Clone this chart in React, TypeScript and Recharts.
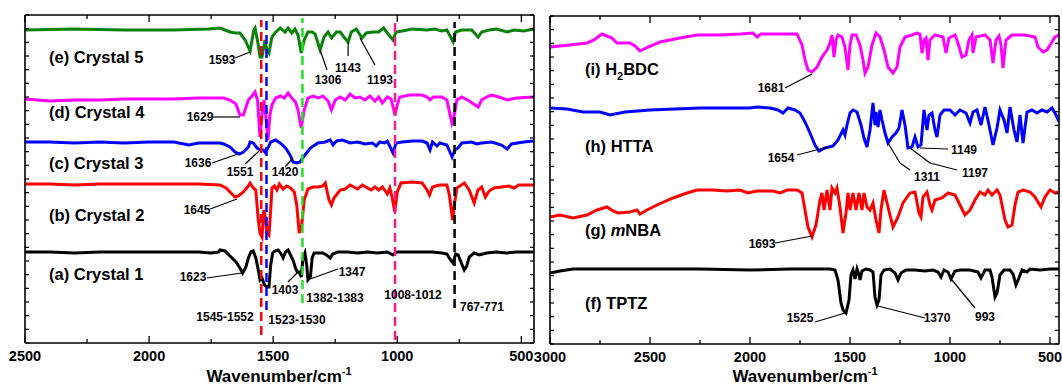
import React from 'react';
import { LineChart, Line, XAxis, YAxis, ReferenceLine } from 'recharts';

type Pt = [number, number];

// ---------- Left panel: complexes (wavenumber cm-1, transmittance a.u. with offsets) ----------
const crystal5: Pt[] = [[2500,313],[2300,314],[2100,313],[1900,313],[1760,314],[1714,315],[1674,311],[1654,310],[1634,310],[1613,303],[1593,292],[1578,313],[1573,315],[1560,298],[1553,286],[1545,286],[1533,303],[1525,293],[1517,290],[1505,306],[1493,310],[1472,315],[1452,311],[1440,315],[1425,310],[1412,314],[1400,308],[1387,290],[1375,303],[1360,311],[1343,311],[1331,309],[1311,293],[1295,306],[1279,311],[1265,305],[1245,311],[1230,311],[1215,306],[1198,301],[1185,311],[1165,314],[1142,305],[1125,310],[1100,311],[1075,311],[1055,315],[1040,310],[1017,303],[1005,311],[980,312],[940,314],[880,313],[850,314],[820,312],[800,313],[785,306],[775,301],[765,311],[740,313],[700,313],[674,306],[660,311],[630,313],[600,314],[557,311],[530,313],[490,312],[449,314]];
const crystal4: Pt[] = [[2500,244],[2450,243],[2400,242],[2300,243],[2200,243],[2100,244],[2000,244],[1900,244],[1800,245],[1700,245],[1674,243],[1650,239],[1634,228],[1620,228],[1600,243],[1585,247],[1573,251],[1563,243],[1553,206],[1545,228],[1537,243],[1530,228],[1521,203],[1513,228],[1505,238],[1490,245],[1470,247],[1455,245],[1440,250],[1425,245],[1410,241],[1400,233],[1387,215],[1375,233],[1360,245],[1340,247],[1318,245],[1300,247],[1279,242],[1265,233],[1250,243],[1230,246],[1210,243],[1190,249],[1170,245],[1150,246],[1130,243],[1110,247],[1090,242],[1075,246],[1060,240],[1040,246],[1025,244],[1009,228],[1000,238],[990,246],[950,248],[900,248],[880,246],[868,243],[855,246],[820,246],[800,243],[780,220],[770,228],[760,243],[740,246],[710,242],[674,236],[660,243],[640,246],[620,248],[590,246],[557,243],[520,245],[449,246]];
const crystal3: Pt[] = [[2500,201],[2400,201],[2300,200],[2200,201],[2100,200],[2000,201],[1900,201],[1840,198],[1800,200],[1714,200],[1700,199],[1674,196],[1654,191],[1636,189],[1620,191],[1600,196],[1593,201],[1580,200],[1565,195],[1551,193],[1540,193],[1533,191],[1521,195],[1510,201],[1490,203],[1472,200],[1450,195],[1432,188],[1420,181],[1405,180],[1392,181],[1375,187],[1350,195],[1320,200],[1290,201],[1271,203],[1259,198],[1245,202],[1220,203],[1190,200],[1160,201],[1130,199],[1100,200],[1085,197],[1070,201],[1050,200],[1040,202],[1017,190],[1005,200],[980,201],[940,202],[900,202],[880,200],[868,193],[858,201],[840,197],[828,200],[800,198],[779,186],[768,193],[755,195],[740,200],[700,201],[680,199],[660,200],[620,201],[580,198],[557,194],[540,199],[490,201],[449,202]];
const crystal2: Pt[] = [[2500,159],[2400,159],[2300,158],[2200,159],[2100,159],[2000,159],[1900,159],[1800,159],[1714,158],[1690,155],[1674,151],[1654,146],[1640,147],[1620,151],[1600,157],[1593,160],[1580,155],[1570,153],[1560,123],[1553,110],[1545,106],[1538,133],[1533,128],[1525,110],[1517,108],[1510,133],[1505,155],[1495,157],[1485,153],[1475,159],[1460,154],[1445,157],[1430,155],[1415,151],[1405,138],[1395,110],[1385,118],[1375,143],[1360,154],[1340,156],[1320,156],[1300,157],[1290,160],[1275,143],[1265,138],[1255,145],[1230,153],[1210,154],[1190,158],[1175,156],[1160,154],[1140,158],[1120,155],[1105,153],[1090,156],[1075,153],[1060,156],[1040,149],[1030,155],[1020,145],[1010,131],[1000,151],[985,160],[940,161],[900,160],[880,153],[870,148],[858,156],[830,158],[800,158],[790,148],[777,123],[770,138],[760,155],[730,160],[710,153],[690,140],[675,153],[660,156],[645,146],[630,152],[610,155],[580,156],[550,157],[530,155],[510,158],[449,158]];
const crystal1: Pt[] = [[2500,91],[2400,91],[2300,90],[2200,91],[2100,91],[2000,91],[1900,91],[1800,91],[1750,90],[1720,91],[1714,93],[1694,92],[1674,87],[1650,81],[1634,75],[1623,70],[1610,76],[1600,85],[1590,91],[1580,92],[1570,85],[1560,73],[1553,63],[1545,65],[1535,58],[1525,56],[1517,56],[1510,78],[1502,90],[1493,92],[1480,93],[1470,90],[1460,85],[1450,91],[1440,93],[1430,88],[1420,83],[1410,75],[1403,71],[1395,71],[1387,66],[1380,85],[1372,90],[1365,78],[1360,63],[1350,66],[1343,85],[1335,90],[1315,90],[1300,90],[1285,88],[1270,85],[1260,89],[1240,91],[1200,91],[1160,90],[1120,91],[1080,90],[1040,91],[1017,88],[1005,91],[960,91],[900,91],[860,91],[820,90],[800,89],[785,83],[775,80],[765,89],[755,88],[740,79],[730,73],[720,77],[710,86],[690,90],[670,88],[640,90],[600,91],[560,90],[520,91],[449,91]];

// ---------- Right panel: ligands ----------
const h2bdc: Pt[] = [[3000,297],[2900,299],[2815,301],[2780,304],[2740,310],[2715,308],[2690,306],[2665,301],[2630,301],[2600,301],[2575,298],[2550,293],[2510,297],[2450,302],[2350,306],[2265,309],[2150,309],[2050,310],[1985,311],[1965,307],[1945,310],[1850,310],[1765,310],[1740,299],[1725,284],[1710,274],[1690,272],[1665,277],[1640,287],[1615,294],[1600,301],[1590,309],[1580,287],[1570,304],[1560,309],[1540,307],[1525,297],[1510,274],[1500,299],[1490,309],[1470,309],[1450,299],[1435,284],[1425,271],[1410,277],[1390,299],[1370,311],[1350,307],[1330,294],[1310,277],[1285,271],[1265,277],[1250,297],[1225,307],[1190,309],[1165,311],[1150,310],[1140,291],[1130,304],[1120,306],[1110,284],[1100,304],[1075,309],[1035,307],[1020,291],[1005,306],[975,309],[960,301],[940,287],[920,289],[905,304],[890,309],[885,291],[870,307],[825,309],[800,304],[785,281],[770,304],[755,308],[745,299],[735,276],[720,304],[690,309],[625,309],[575,307],[560,297],[535,292],[515,294],[490,302],[475,307],[455,309]];
const htta: Pt[] = [[3000,236],[2915,235],[2835,232],[2750,232],[2700,229],[2625,232],[2500,234],[2250,236],[2000,236],[1965,237],[1900,236],[1860,234],[1835,231],[1810,236],[1775,234],[1750,231],[1725,222],[1700,211],[1675,199],[1655,193],[1625,196],[1585,198],[1560,204],[1535,214],[1525,209],[1515,219],[1500,231],[1485,234],[1465,232],[1445,219],[1430,206],[1415,197],[1400,214],[1385,241],[1375,219],[1370,232],[1360,217],[1350,234],[1340,224],[1325,211],[1310,201],[1290,207],[1270,211],[1255,216],[1240,234],[1225,219],[1210,196],[1190,197],[1175,207],[1160,197],[1145,199],[1130,234],[1115,214],[1105,229],[1090,231],[1075,214],[1065,207],[1050,229],[1030,234],[1000,234],[975,229],[950,234],[920,231],[900,221],[885,232],[865,234],[845,219],[825,237],[805,219],[785,199],[765,216],[750,234],[730,224],[715,211],[700,237],[680,214],[665,202],[650,229],[635,201],[615,232],[590,234],[565,231],[540,234],[515,232],[490,236],[470,229],[455,222]];
const mnba: Pt[] = [[3000,127],[2950,129],[2885,126],[2815,129],[2765,134],[2715,137],[2685,133],[2660,131],[2600,132],[2565,134],[2550,130],[2515,134],[2465,139],[2385,146],[2315,151],[2265,154],[2185,154],[2115,153],[2050,154],[2010,151],[1965,153],[1885,153],[1850,151],[1815,154],[1765,154],[1740,151],[1725,134],[1710,117],[1690,107],[1670,119],[1650,144],[1640,151],[1630,134],[1615,154],[1600,134],[1590,156],[1575,151],[1565,156],[1550,137],[1535,111],[1520,131],[1510,151],[1500,134],[1485,151],[1470,134],[1455,151],[1440,134],[1430,151],[1415,137],[1400,134],[1385,141],[1370,124],[1355,111],[1345,134],[1330,154],[1310,137],[1285,117],[1260,127],[1235,141],[1200,151],[1175,152],[1155,131],[1145,127],[1135,147],[1115,152],[1100,139],[1090,134],[1075,144],[1040,146],[1010,151],[975,149],[950,139],[925,129],[900,134],[875,144],[850,152],[825,149],[810,154],[790,149],[765,154],[750,149],[725,124],[710,117],[690,119],[675,139],[660,152],[635,154],[600,152],[575,147],[545,137],[525,147],[500,154],[475,151],[455,152]];
const tptz: Pt[] = [[3000,71],[2950,73],[2885,75],[2750,75],[2500,75],[2250,75],[2000,74],[1800,75],[1650,75],[1600,75],[1575,74],[1560,64],[1545,41],[1535,34],[1520,31],[1505,44],[1495,69],[1485,74],[1475,65],[1465,75],[1455,69],[1450,64],[1440,73],[1420,75],[1400,74],[1385,72],[1375,47],[1365,39],[1355,44],[1345,69],[1330,74],[1300,75],[1275,71],[1260,64],[1245,71],[1220,74],[1175,74],[1125,73],[1085,74],[1060,72],[1045,67],[1030,74],[1010,72],[995,65],[975,73],[950,74],[900,74],[860,72],[845,66],[825,74],[800,74],[790,67],[775,47],[765,51],[750,69],[730,74],[700,74],[685,70],[670,59],[655,66],[640,74],[615,72],[600,75],[550,74],[500,75],[455,75]];

// ---------- Axes ----------
const leftTicks = [2500, 2250, 2000, 1750, 1500, 1250, 1000, 750, 500];
const leftTickLabels = [2500, 2000, 1500, 1000, 500];
const rightTicks = [3000, 2750, 2500, 2250, 2000, 1750, 1500, 1250, 1000, 750, 500];
const rightTickLabels = [3000, 2500, 2000, 1500, 1000, 500];
const leftDomain: [number, number] = [449, 2500];
const rightDomain: [number, number] = [455, 3000];
const yMax = 328;
const yTicks = Array.from({ length: 25 }, (_, i) => (i * yMax) / 24);

const FONT = '"Liberation Sans", Arial, Helvetica, sans-serif';

const toData = (arr: Pt[]) => arr.map(([wn, v]) => ({ wn, v }));

const leftSeries = [
  { key: 'c5', data: crystal5, color: '#0a820a' },
  { key: 'c4', data: crystal4, color: '#ff00ff' },
  { key: 'c3', data: crystal3, color: '#0000ff' },
  { key: 'c2', data: crystal2, color: '#ff0000' },
  { key: 'c1', data: crystal1, color: '#000000' },
];
const rightSeries = [
  { key: 'i', data: h2bdc, color: '#ff00ff' },
  { key: 'h', data: htta, color: '#0000ff' },
  { key: 'g', data: mnba, color: '#ff0000' },
  { key: 'f', data: tptz, color: '#000000' },
];

// dashed marker lines (wavenumber, extent in a.u.)
const markers = [
  { wn: 1548, from: 8, to: 323, color: '#ff0000' },
  { wn: 1527, from: 33, to: 323, color: '#0000ff' },
  { wn: 1382, from: 40, to: 325, color: '#22e022' },
  { wn: 1009, from: 3, to: 321, color: '#ff1a8c' },
  { wn: 769, from: 35, to: 321, color: '#000000' },
];

// leader lines (data coordinates)
const leftLeaders: Pt[][] = [
  [[1654, 285], [1593, 291]],
  [[1742, 226], [1634, 226]],
  [[1746, 180], [1642, 189]],
  [[1613, 179], [1557, 192]],
  [[1452, 176], [1420, 185]],
  [[1754, 134], [1646, 144]],
  [[1767, 65], [1626, 70]],
  [[1440, 61], [1400, 71]],
  [[1351, 64], [1239, 74]],
  [[1311, 293], [1283, 273]],
  [[1198, 301], [1198, 287]],
  [[1150, 305], [1090, 278]],
];
const rightLeaders: Pt[][] = [
  [[1825, 256], [1690, 270]],
  [[1765, 189], [1610, 197]],
  [[1310, 201], [1250, 181], [1200, 174]],
  [[1200, 196], [1100, 181], [965, 174]],
  [[1150, 196], [1010, 195]],
  [[1875, 101], [1690, 108]],
  [[1675, 22], [1525, 31]],
  [[1360, 38], [1125, 26]],
  [[990, 64], [875, 36]],
];

// annotation text (page pixels)
const peakLabels = [
  { t: '1593', x: 222, y: 60 }, { t: '1629', x: 200, y: 117 }, { t: '1636', x: 198, y: 163 },
  { t: '1551', x: 240, y: 172 }, { t: '1420', x: 285, y: 172 }, { t: '1645', x: 197, y: 210 },
  { t: '1623', x: 193, y: 277 }, { t: '1403', x: 285, y: 290 }, { t: '1347', x: 352, y: 272 },
  { t: '1306', x: 328, y: 80 }, { t: '1143', x: 348, y: 68 }, { t: '1193', x: 380, y: 80 },
  { t: '1545-1552', x: 225, y: 317 }, { t: '1523-1530', x: 297, y: 320 },
  { t: '1382-1383', x: 335, y: 298 }, { t: '1008-1012', x: 413, y: 295 }, { t: '767-771', x: 482, y: 307 },
  { t: '1681', x: 771, y: 88 }, { t: '1654', x: 781, y: 158 }, { t: '1311', x: 927, y: 177 },
  { t: '1197', x: 975, y: 173 }, { t: '1149', x: 964, y: 150 }, { t: '1693', x: 762, y: 244 },
  { t: '1525', x: 800, y: 318 }, { t: '1370', x: 937, y: 318 }, { t: '993', x: 985, y: 317 },
];
const leftNames = [
  { t: '(e) Crystal 5', y: 58 }, { t: '(d) Crystal 4', y: 113 }, { t: '(c) Crystal 3', y: 164 },
  { t: '(b) Crystal 2', y: 216 }, { t: '(a) Crystal 1', y: 275 },
];

const makeBottomTick = (labels: number[]) => (props: any) => {
  const { x, y, payload } = props;
  const major = labels.includes(payload.value);
  return (
    <g>
      <line x1={x} y1={y} x2={x} y2={y - (major ? 7 : 4)} stroke="#000" strokeWidth={1.3} />
      {major && (
        <text x={x} y={y + 18} textAnchor="middle" fontFamily={FONT} fontWeight="bold" fontSize={14.5} fill="#000">
          {payload.value}
        </text>
      )}
    </g>
  );
};
const makeTopTick = (labels: number[]) => (props: any) => {
  const { x, y, payload } = props;
  const major = labels.includes(payload.value);
  return <line x1={x} y1={y} x2={x} y2={y + (major ? 7 : 4)} stroke="#000" strokeWidth={1.3} />;
};
const leftYTick = (props: any) => <line x1={props.x} y1={props.y} x2={props.x + 4} y2={props.y} stroke="#000" strokeWidth={1.2} />;
const rightYTick = (props: any) => <line x1={props.x} y1={props.y} x2={props.x - 4} y2={props.y} stroke="#000" strokeWidth={1.2} />;

const axisLine = { stroke: '#000', strokeWidth: 1.6 };

function panelAxes(domain: [number, number], ticks: number[], labels: number[]) {
  return [
    <XAxis key="xb" type="number" dataKey="wn" domain={domain} reversed allowDataOverflow ticks={ticks} interval={0}
      height={1} tickSize={0} tickMargin={0} tickLine={false} axisLine={axisLine} tick={makeBottomTick(labels)} />,
    <XAxis key="xt" xAxisId="top" orientation="top" type="number" dataKey="wn" domain={domain} reversed allowDataOverflow
      ticks={ticks} interval={0} height={1} tickSize={0} tickMargin={0} tickLine={false} axisLine={axisLine} tick={makeTopTick(labels)} />,
    <YAxis key="yl" type="number" domain={[0, yMax]} ticks={yTicks} interval={0} width={1} tickSize={0} tickMargin={0}
      tickLine={false} axisLine={axisLine} tick={leftYTick} allowDataOverflow />,
    <YAxis key="yr" yAxisId="r" orientation="right" type="number" domain={[0, yMax]} ticks={yTicks} interval={0} width={1}
      tickSize={0} tickMargin={0} tickLine={false} axisLine={axisLine} tick={rightYTick} allowDataOverflow />,
  ];
}

const leaderLines = (leaders: Pt[][], prefix: string) =>
  leaders.flatMap((pl, i) =>
    pl.slice(1).map((p, j) => (
      <ReferenceLine key={`${prefix}${i}-${j}`} segment={[{ x: pl[j][0], y: pl[j][1] }, { x: p[0], y: p[1] }]}
        stroke="#000" strokeWidth={1.2} ifOverflow="visible" />
    ))
  );

export default function App() {
  return (
    <div style={{ position: 'absolute', left: 0, top: 0, width: 1062, height: 385, background: '#fff', overflow: 'hidden' }}>
      <div style={{ position: 'absolute', left: 0, top: 0 }}>
        <LineChart width={540} height={385} margin={{ top: 14, right: 5, bottom: 41, left: 24 }}>
          {panelAxes(leftDomain, leftTicks, leftTickLabels)}
          {leftSeries.map((s) => (
            <Line key={s.key} data={toData(s.data)} dataKey="v" type="linear" stroke={s.color} strokeWidth={3}
              dot={false} activeDot={false} isAnimationActive={false} />
          ))}
          {markers.map((m) => (
            <ReferenceLine key={`m${m.wn}`} segment={[{ x: m.wn, y: m.from }, { x: m.wn, y: m.to }]}
              stroke={m.color} strokeWidth={2.5} strokeDasharray="9 5" ifOverflow="visible" zIndex={600} />
          ))}
          {leaderLines(leftLeaders, 'll')}
        </LineChart>
      </div>
      <div style={{ position: 'absolute', left: 520, top: 0 }}>
        <LineChart width={542} height={385} margin={{ top: 15, right: 2, bottom: 40, left: 29 }}>
          {panelAxes(rightDomain, rightTicks, rightTickLabels)}
          {rightSeries.map((s) => (
            <Line key={s.key} data={toData(s.data)} dataKey="v" type="linear" stroke={s.color} strokeWidth={3}
              dot={false} activeDot={false} isAnimationActive={false} />
          ))}
          {leaderLines(rightLeaders, 'rl')}
        </LineChart>
      </div>
      <svg width={1062} height={385} style={{ position: 'absolute', left: 0, top: 0, pointerEvents: 'none' }}
        fontFamily={FONT} fontWeight="bold" fill="#000">
        {leftNames.map((n) => (
          <text key={n.t} x={49} y={n.y + 4.5} fontSize={16.5}>{n.t}</text>
        ))}
        <text x={585} y={74.5} fontSize={16.5}>
          (i) H<tspan fontSize={11} dy={5}>2</tspan><tspan dy={-5}>BDC</tspan>
        </text>
        <text x={585} y={151.5} fontSize={16.5}>(h) HTTA</text>
        <text x={585} y={235.5} fontSize={16.5}>
          (g) <tspan fontStyle="italic">m</tspan>NBA
        </text>
        <text x={585} y={308.5} fontSize={16.5}>(f) TPTZ</text>
        {peakLabels.map((p) => (
          <text key={p.t + p.x} x={p.x} y={p.y + 4.3} fontSize={12} textAnchor="middle">{p.t}</text>
        ))}
        <text x={279} y={382} fontSize={17} textAnchor="middle">
          Wavenumber/cm<tspan fontSize={11} dy={-7}>-1</tspan>
        </text>
        <text x={805} y={382} fontSize={17} textAnchor="middle">
          Wavenumber/cm<tspan fontSize={11} dy={-7}>-1</tspan>
        </text>
      </svg>
    </div>
  );
}
